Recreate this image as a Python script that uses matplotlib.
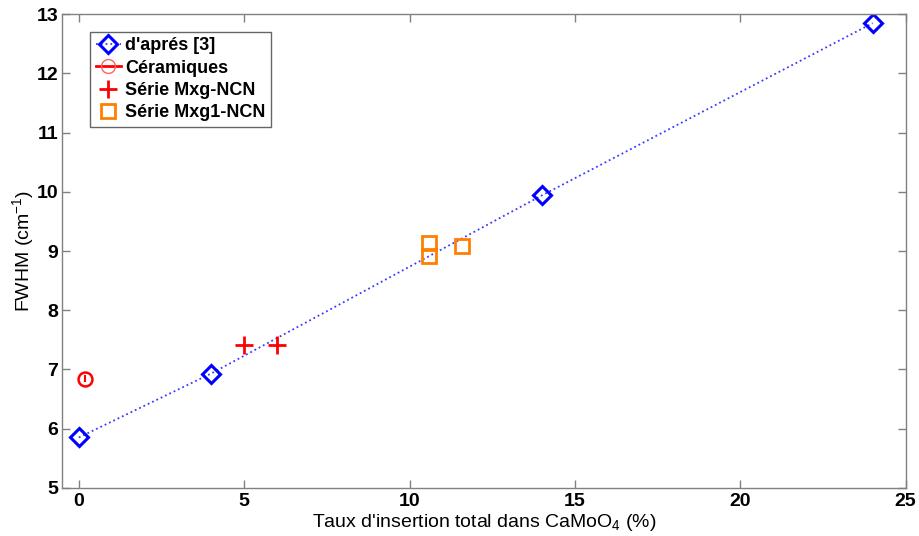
import matplotlib.pyplot as plt
from matplotlib.lines import Line2D

plt.rcParams['font.family'] = ['Liberation Sans', 'DejaVu Sans']
plt.rcParams['mathtext.fontset'] = 'custom'
plt.rcParams['mathtext.rm'] = 'Liberation Sans'
plt.rcParams['mathtext.default'] = 'regular'

# d'apres [3]
ref_x = [0, 4, 14, 24]
ref_y = [5.85, 6.93, 9.94, 12.85]
# Ceramiques
cer_x = [0.2]
cer_y = [6.84]
cer_err = [0.06]
# Serie Mxg-NCN
mxg_x = [5, 6]
mxg_y = [7.41, 7.41]
# Serie Mxg1-NCN
mxg1_x = [10.6, 10.6, 11.6]
mxg1_y = [9.13, 8.91, 9.09]

fig = plt.figure(figsize=(9.19, 5.36), dpi=100)
ax = fig.add_axes([0.0678, 0.090, 0.9177, 0.8833])

h1, = ax.plot(ref_x, ref_y, linestyle=':', color='#3a3aff', lw=1.3, marker='D', ms=9,
              mfc='none', mec='#0000ff', mew=2.2)
ax.errorbar(cer_x, cer_y, yerr=cer_err, fmt='o', ms=10, mfc='none', mec='red',
            mew=1.8, ecolor='red', elinewidth=1.5, capsize=0)
h3, = ax.plot(mxg_x, mxg_y, linestyle='none', marker='+', ms=13, mec='red', mew=2)
h4, = ax.plot(mxg1_x, mxg1_y, linestyle='none', marker='s', ms=10, mfc='none',
              mec='#ff8000', mew=2)
h2 = Line2D([], [], color='red', lw=2, marker='o', ms=10, mfc='none',
            mec='#ff6060', mew=1)

ax.set_xlim(-0.5, 25)
ax.set_ylim(5, 13)
ax.set_xticks([0, 5, 10, 15, 20, 25])
ax.set_yticks(range(5, 14))
ax.tick_params(direction='in', top=True, right=True, length=6, width=1,
               color='#808080', labelsize=14, pad=4)
ax.tick_params(axis='y', pad=3)
for lab in ax.get_xticklabels() + ax.get_yticklabels():
    lab.set_fontweight('bold')
for s in ax.spines.values():
    s.set_color('#808080')
    s.set_linewidth(1)

ax.set_xlabel("Taux d'insertion total dans CaMoO$_4$ (%)", fontsize=14, labelpad=1)
ax.set_ylabel("FWHM (cm$^{-1}$)", fontsize=14, labelpad=0)

leg = ax.legend([h1, h2, h3, h4],
                ["d'aprés [3]", 'Céramiques', 'Série Mxg-NCN', 'Série Mxg1-NCN'],
                loc='upper left', bbox_to_anchor=(0.033, 0.963), fontsize=13,
                frameon=True, fancybox=False, edgecolor='#404040',
                handlelength=1.4, handletextpad=0.25, borderpad=0.3,
                labelspacing=0.3, borderaxespad=0)
leg.get_frame().set_linewidth(1)
for t in leg.get_texts():
    t.set_fontweight('bold')

plt.savefig('out.png', dpi=100)
